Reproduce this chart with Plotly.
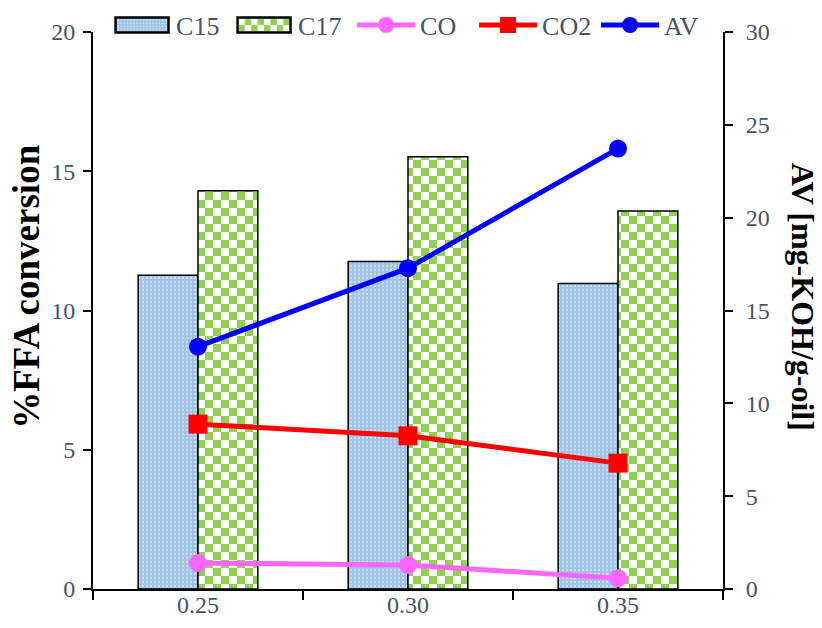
import plotly.graph_objects as go

# Catalyst loading categories
categories = ["0.25", "0.30", "0.35"]

# %FFA conversion (left axis)
c15 = [11.27, 11.76, 10.97]
c17 = [14.30, 15.52, 13.57]
co = [0.93, 0.86, 0.39]
co2 = [5.92, 5.50, 4.52]

# Acid value (right axis)
av = [13.05, 17.28, 23.72]

left_ticks = [0, 5, 10, 15, 20]
right_ticks = [0, 5, 10, 15, 20, 25, 30]

TICK_COLOR = "#44546a"
SERIF = "Liberation Serif, Times New Roman, serif"

fig = go.Figure()

fig.add_trace(go.Bar(
    x=categories, y=c15, name="C15",
    marker=dict(
        color="#9dc3e6",
        line=dict(color="black", width=1.5),
        pattern=dict(shape=".", fgcolor="white", bgcolor="#9dc3e6",
                     size=4, solidity=0.25, fillmode="overlay"),
    ),
))
fig.add_trace(go.Bar(
    x=categories, y=c17, name="C17",
    marker=dict(
        color="white",
        line=dict(color="black", width=1.5),
        pattern=dict(shape="+", fgcolor="#92d050", bgcolor="white",
                     size=16, solidity=0.5, fillmode="replace"),
    ),
))
fig.add_trace(go.Scatter(
    x=categories, y=co, name="CO", mode="lines+markers",
    line=dict(color="#ff66ff", width=5),
    marker=dict(symbol="circle", size=18, color="#ff66ff"),
))
fig.add_trace(go.Scatter(
    x=categories, y=co2, name="CO2", mode="lines+markers",
    line=dict(color="#ff0000", width=5),
    marker=dict(symbol="square", size=19, color="#ff0000"),
))
fig.add_trace(go.Scatter(
    x=categories, y=av, name="AV", mode="lines+markers", yaxis="y2",
    line=dict(color="#0000ff", width=5),
    marker=dict(symbol="circle", size=18, color="#0000ff"),
))

fig.update_layout(
    width=822, height=628,
    margin=dict(l=93, r=99, t=32, b=39, autoexpand=False),
    paper_bgcolor="white", plot_bgcolor="white",
    barmode="group", bargap=0.43, bargroupgap=0,
    font=dict(family=SERIF, color=TICK_COLOR, size=24),
    showlegend=True,
    legend=dict(
        orientation="h", x=0.508, xanchor="center",
        yref="container", y=0.96, yanchor="middle",
        font=dict(family=SERIF, size=26, color=TICK_COLOR),
        itemwidth=58, entrywidth=49, entrywidthmode="pixels",
        tracegroupgap=0, bgcolor="rgba(0,0,0,0)",
    ),
    xaxis=dict(
        type="category", tickson="boundaries",
        ticks="outside", ticklen=9, tickwidth=2, tickcolor="black",
        showline=True, linecolor="black", linewidth=2,
        showgrid=False, zeroline=False, ticklabelstandoff=-7,
        tickfont=dict(family=SERIF, size=24, color=TICK_COLOR),
    ),
    yaxis=dict(
        range=[0, 20], tickvals=left_ticks,
        ticks="outside", ticklen=8, tickwidth=2, tickcolor="black",
        showline=True, linecolor="black", linewidth=2,
        showgrid=False, zeroline=False, ticklabelstandoff=3,
        tickfont=dict(family=SERIF, size=24, color=TICK_COLOR),
    ),
    yaxis2=dict(
        range=[0, 30], tickvals=right_ticks, overlaying="y", side="right",
        ticks="outside", ticklen=8, tickwidth=2, tickcolor="black",
        showline=True, linecolor="black", linewidth=2,
        showgrid=False, zeroline=False, ticklabelstandoff=8,
        tickfont=dict(family=SERIF, size=24, color=TICK_COLOR),
    ),
    annotations=[
        dict(
            text="<b>%FFA conversion</b>", textangle=-90,
            xref="paper", yref="paper", x=-0.106, y=0.543,
            xanchor="center", yanchor="middle", showarrow=False,
            font=dict(family=SERIF, size=37, color="black"),
        ),
        dict(
            text="<b>AV [mg-KOH/g-oil]</b>", textangle=90,
            xref="paper", yref="paper", x=1.126, y=0.524,
            xanchor="center", yanchor="middle", showarrow=False,
            font=dict(family=SERIF, size=32, color="black"),
        ),
    ],
)

# Checkerboard tile for the C17 bars and wide box symbols for the bar legend entries
post_js = """
var ns = 'http://www.w3.org/2000/svg';
function restyleSvg(){
  document.querySelectorAll('pattern').forEach(function(p){
    var html = p.innerHTML.toLowerCase();
    if (html.indexOf('146, 208, 80') < 0 && html.indexOf('#92d050') < 0) return;
    var s = 16, h = s / 2;
    p.setAttribute('width', s); p.setAttribute('height', s);
    while (p.firstChild) p.removeChild(p.firstChild);
    [[0,0,s,s,'#ffffff'],[0,0,h,h,'#92d050'],[h,h,h,h,'#92d050']].forEach(function(r){
      var e = document.createElementNS(ns, 'rect');
      e.setAttribute('x', r[0]); e.setAttribute('y', r[1]);
      e.setAttribute('width', r[2]); e.setAttribute('height', r[3]);
      e.setAttribute('fill', r[4]);
      p.appendChild(e);
    });
  });
  document.querySelectorAll('.legend .legendpoints path').forEach(function(el){
    var d = (el.getAttribute('d') || '').replace(/\\s/g, '');
    if (d === 'M6,6H-6V-6H6Z' || el.classList.contains('legendbar')) {
      el.setAttribute('d', 'M-26.5,-7.5H26.5V7.5H-26.5Z');
      el.style.strokeWidth = '2.5px';
      el.style.stroke = 'black';
    }
  });
}
restyleSvg();
var gd = document.getElementById('{plot_id}');
if (gd && gd.on) { gd.on('plotly_afterplot', restyleSvg); }
setTimeout(restyleSvg, 200);
"""

fig.write_html("out.html", post_script=post_js)
